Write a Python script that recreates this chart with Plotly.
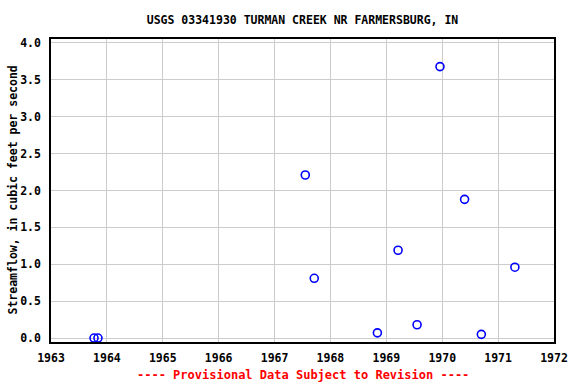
import plotly.graph_objects as go

years = [1963.77, 1963.84, 1967.55, 1967.71, 1968.84, 1969.21, 1969.55,
         1969.96, 1970.40, 1970.70, 1971.30]
flow = [0.0, 0.0, 2.21, 0.81, 0.07, 1.19, 0.18, 3.68, 1.88, 0.05, 0.96]

x_ticks = [1963, 1964, 1965, 1966, 1967, 1968, 1969, 1970, 1971, 1972]
y_ticks = [0.0, 0.5, 1.0, 1.5, 2.0, 2.5, 3.0, 3.5, 4.0]

title = "USGS 03341930 TURMAN CREEK NR FARMERSBURG, IN"
y_title = "Streamflow, in cubic feet per second"
footer = "---- Provisional Data Subject to Revision ----"

FONT = "DejaVu Sans Mono"
L, R, T, B = 51, 22, 39, 42
plot_w = 576 - L - R
plot_h = 384 - T - B

fig = go.Figure()
fig.add_trace(go.Scatter(
    x=years, y=flow, mode="markers",
    marker=dict(symbol="circle-open", size=8, color="#0000ff",
                line=dict(width=1.6, color="#0000ff")),
    showlegend=False, hoverinfo="x+y",
))

fig.update_layout(
    width=576, height=384,
    margin=dict(l=L, r=R, t=T, b=B, autoexpand=False),
    paper_bgcolor="white", plot_bgcolor="white",
    font=dict(family=FONT, size=11.5, color="black"),
    title=dict(text="<b>" + title + "</b>", x=(L + 576 - R) / 2 / 576,
               xanchor="center", y=1 - 20 / 384, yanchor="middle",
               font=dict(family=FONT, size=11.5, color="black"),
               automargin=False),
    xaxis=dict(range=[1963, 1972], tickvals=x_ticks,
               ticktext=["<b>%d</b>" % v for v in x_ticks],
               showgrid=True, gridcolor="#cccccc", gridwidth=1,
               showline=True, linecolor="black", linewidth=1.5, mirror=True,
               zeroline=False, ticks="", ticklabelstandoff=4,
               automargin=False),
    yaxis=dict(range=[-0.054, 4.054], tickvals=y_ticks,
               ticktext=["<b>%.1f</b>" % v for v in y_ticks],
               showgrid=True, gridcolor="#cccccc", gridwidth=1,
               showline=True, linecolor="black", linewidth=1.5, mirror=True,
               zeroline=False, ticks="", ticklabelstandoff=6,
               automargin=False),
    annotations=[
        dict(text="<b>" + footer + "</b>", xref="paper", yref="paper",
             x=0.5, y=-(375 - (384 - B)) / plot_h,
             xanchor="center", yanchor="middle", showarrow=False,
             font=dict(family=FONT, size=12, color="#ff0000")),
        dict(text="<b>" + y_title + "</b>", xref="paper", yref="paper",
             x=(12 - L) / plot_w, y=0.5, textangle=-90,
             xanchor="center", yanchor="middle", showarrow=False,
             font=dict(family=FONT, size=11.5, color="black")),
    ],
)

fig.write_html("out.html",
               config={"displayModeBar": False},
               post_script="document.body.style.margin='0';"
                           "document.body.style.overflow='hidden';")
